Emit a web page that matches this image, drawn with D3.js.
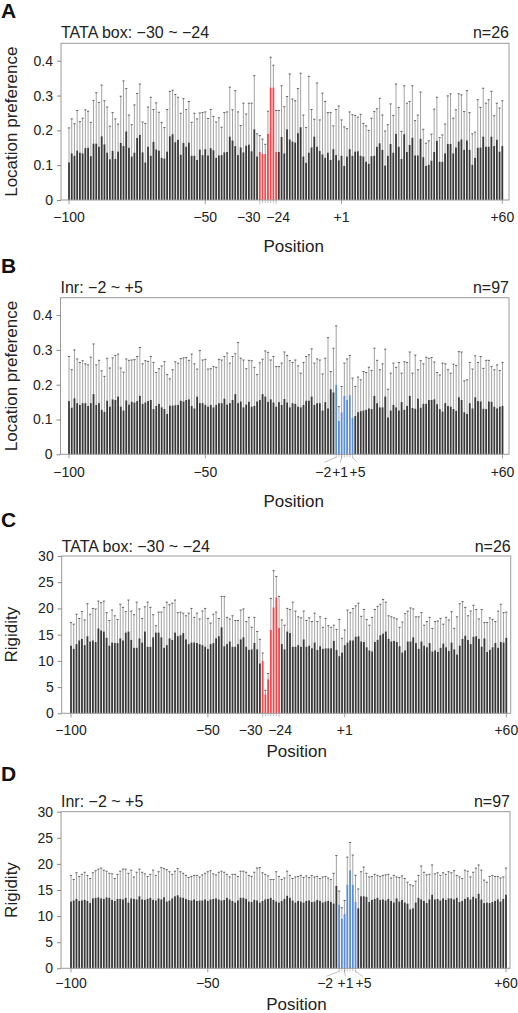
<!DOCTYPE html>
<html><head><meta charset="utf-8">
<script src="https://cdn.jsdelivr.net/npm/d3@7"></script>
<style>
html,body{margin:0;padding:0;background:#fff;}
svg{display:block;font-family:"Liberation Sans",Arial,Helvetica,sans-serif;}
</style></head>
<body>
<svg id="chart" width="518" height="1013"></svg>
<script>
// positions -100..-1, +1..+60 (no 0)
const positions = d3.range(-100, 0).concat(d3.range(1, 61));

// Panel A: TATA box, location preference (mean, upper end of error bar)
const tataPrefMean = [
.108,.134,.127,.142,.136,.134,.149,.150,.126,.162,
.162,.153,.183,.160,.136,.117,.141,.118,.139,.164,
.155,.197,.150,.125,.136,.178,.187,.137,.108,.153,
.127,.167,.145,.142,.121,.119,.139,.183,.189,.166,
.173,.130,.164,.153,.165,.127,.127,.115,.145,.129,
.146,.128,.149,.143,.121,.128,.129,.137,.138,.182,
.171,.155,.129,.151,.137,.156,.159,.140,.203,.125,
.138,.132,.132,.190,.323,.323,.138,
.138,.181,.134,.203,.174,.168,.165,.192,.209,.125,
.107,.136,.151,.182,.153,.141,.131,.121,.136,.115,
.146,.129,.114,.127,.098,.125,
.146,.127,.139,.140,.127,.125,.110,.104,.126,.127,
.153,.163,.144,.099,.127,.161,.136,.190,.153,.118,
.189,.138,.158,.179,.128,.128,.176,.123,.098,.101,
.113,.138,.170,.110,.110,.134,.161,.161,.134,.151,
.168,.174,.144,.171,.144,.101,.121,.150,.151,.182,
.153,.153,.182,.155,.173,.139,.155];
const tataPrefUpper = [
.207,.233,.219,.257,.225,.235,.259,.255,.223,.286,
.308,.280,.330,.285,.267,.212,.251,.233,.218,.298,
.342,.320,.244,.216,.273,.306,.333,.224,.220,.267,
.295,.260,.279,.252,.223,.208,.260,.312,.315,.303,
.295,.249,.291,.260,.283,.223,.249,.233,.250,.251,
.253,.234,.260,.240,.224,.236,.209,.251,.253,.324,
.259,.314,.253,.214,.278,.247,.278,.278,.357,.190,
.185,.175,.160,.255,.410,.387,.257,
.257,.328,.268,.297,.362,.290,.285,.320,.364,.244,
.208,.355,.260,.232,.336,.230,.307,.283,.251,.251,
.213,.260,.270,.230,.210,.205,
.253,.245,.243,.238,.246,.220,.213,.200,.235,.254,
.262,.292,.244,.198,.216,.276,.243,.333,.266,.197,
.328,.278,.283,.328,.228,.244,.310,.203,.163,.170,
.189,.261,.295,.179,.187,.218,.299,.305,.235,.259,
.305,.302,.254,.314,.251,.190,.195,.288,.266,.321,
.278,.288,.312,.242,.278,.264,.285];

// Panel B: Inr, location preference
const inrPrefMean = [
.153,.134,.161,.147,.142,.147,.147,.139,.147,.173,
.142,.147,.128,.122,.154,.137,.158,.156,.166,.137,
.126,.155,.143,.151,.149,.153,.168,.145,.149,.153,
.156,.130,.139,.145,.135,.130,.116,.140,.140,.141,
.142,.154,.152,.156,.158,.139,.132,.166,.147,
.147,.142,.137,.142,.135,.142,.147,.147,.160,.143,
.147,.156,.173,.147,.152,.135,.143,.151,.137,.139,
.152,.156,.173,.166,.151,.158,.149,.137,.150,.142,
.159,.149,.135,.147,.145,.137,.135,.142,.154,.154,
.166,.142,.147,.147,.126,.150,.132,.187,.178,
.200,.096,.121,.168,.156,.170,.105,
.110,.121,.124,.126,.128,.132,.130,.168,.147,.135,
.135,.166,.106,.126,.142,.135,.126,.150,.128,.139,
.168,.133,.131,.160,.134,.145,.145,.156,.156,.158,
.144,.130,.123,.147,.139,.137,.130,.125,.164,.156,
.121,.116,.147,.132,.164,.153,.152,.131,.130,.152,
.151,.137,.132,.137,.139];
const inrPrefUpper = [
.281,.243,.300,.274,.264,.269,.260,.257,.279,.317,
.257,.270,.240,.224,.276,.248,.277,.284,.288,.248,
.236,.274,.270,.271,.272,.281,.307,.260,.269,.267,
.281,.264,.235,.246,.254,.266,.229,.217,.243,.266,
.262,.275,.277,.278,.270,.288,.260,.245,.298,
.271,.273,.245,.246,.252,.250,.273,.271,.281,.291,
.262,.281,.289,.321,.276,.271,.246,.270,.269,.250,
.229,.263,.273,.297,.293,.271,.281,.252,.252,.262,
.294,.284,.269,.264,.271,.254,.233,.264,.281,.286,
.303,.262,.274,.271,.231,.276,.335,.238,.305,
.369,.137,.195,.262,.274,.284,.219,
.195,.222,.214,.238,.235,.250,.241,.305,.270,.243,
.260,.302,.187,.233,.262,.250,.264,.233,.266,.264,
.294,.233,.285,.243,.269,.260,.279,.276,.278,.265,
.235,.228,.262,.260,.243,.233,.259,.255,.295,.294,
.211,.214,.264,.245,.283,.264,.281,.247,.270,.270,
.252,.243,.257,.241,.264];

// Panel C: TATA box, rigidity
const tataRigMean = [
12.9,12.3,13.2,13.9,14.2,13.0,14.7,13.7,13.9,13.6,
16.2,15.8,15.6,14.4,12.9,13.5,13.4,13.4,14.3,13.9,
15.4,15.6,14.0,12.5,12.5,14.3,13.5,15.6,12.7,12.7,
14.5,15.4,15.4,14.5,12.5,13.0,14.3,14.0,15.4,14.7,
14.9,15.3,14.1,13.2,13.5,13.5,13.4,13.2,13.0,
12.7,12.3,13.2,13.4,14.3,14.7,16.4,12.8,13.2,13.7,
12.7,12.7,13.2,14.1,14.5,12.7,12.1,12.2,13.4,12.2,9.5,
10.0,3.6,6.5,15.9,20.2,22.1,16.3,
13.2,12.2,15.6,15.3,12.7,12.7,13.0,12.7,14.1,12.7,
12.9,12.4,13.5,12.1,12.8,12.3,12.4,12.4,12.4,13.8,
12.1,10.9,11.6,13.0,13.5,13.9,13.9,14.6,14.7,
13.7,13.6,12.6,12.0,11.8,13.6,14.0,14.9,15.2,15.6,
14.2,13.7,13.8,13.6,12.8,11.6,12.0,13.7,13.7,14.5,
13.4,12.3,13.7,12.9,12.6,13.4,11.8,12.0,11.7,12.5,
13.3,12.6,11.9,13.5,12.2,11.2,12.9,14.2,14.8,14.0,
13.2,14.6,14.7,14.2,12.7,14.3,11.7,12.1,12.6,13.4,
12.5,13.6,13.5,14.4];
const tataRigUpper = [
17.3,17.0,18.9,18.1,19.4,17.8,20.9,18.9,20.0,19.9,
21.4,21.1,21.4,19.2,17.7,19.7,18.6,17.9,20.8,20.2,
19.4,21.6,19.5,18.8,21.2,19.9,18.1,20.3,21.2,20.2,
18.8,16.7,19.3,19.3,20.2,21.2,20.7,21.0,21.6,19.2,
19.3,19.1,18.6,19.1,20.0,18.3,19.1,18.0,19.5,
20.0,18.1,17.2,18.9,19.3,18.1,22.3,22.3,18.3,18.0,
18.6,17.7,17.7,19.7,19.9,17.5,18.3,16.4,18.3,15.6,14.1,
11.5,4.4,7.6,21.9,27.2,26.1,22.3,
17.8,16.8,20.0,19.8,21.2,19.5,18.4,18.2,19.5,17.7,
18.2,17.5,19.1,17.5,18.4,16.4,18.1,16.7,16.4,16.8,
16.0,17.9,14.3,15.9,19.7,19.2,20.0,20.5,21.0,
18.5,19.8,17.9,16.8,18.3,19.8,20.4,20.8,21.7,21.2,
18.6,18.4,18.2,18.0,16.4,17.4,19.0,19.5,20.1,19.9,
18.4,18.4,19.2,16.8,17.5,18.3,16.2,17.5,17.6,18.1,
17.0,18.3,17.8,19.4,16.2,18.4,20.9,21.3,20.2,18.6,
19.5,20.6,19.8,18.0,19.8,17.3,17.3,18.2,17.9,17.5,
19.5,20.8,19.2,19.3];

// Panel D: Inr, rigidity
const inrRigMean = [
12.8,13.0,13.3,12.9,13.0,13.1,12.9,12.5,13.4,13.5,
13.6,13.4,13.3,13.6,13.5,13.1,12.9,13.3,13.3,13.2,
13.5,12.6,13.4,13.3,13.2,13.8,13.2,13.1,13.3,13.5,
13.1,13.0,13.4,13.2,13.6,12.8,13.0,13.4,13.8,14.0,
13.6,13.5,13.3,13.1,13.0,13.2,12.9,13.0,13.0,13.2,
12.9,13.2,13.3,13.4,13.2,13.0,13.1,13.5,13.2,12.9,
12.6,13.0,13.5,13.5,13.3,12.8,12.7,13.1,13.0,12.6,
12.9,13.2,13.3,13.5,13.1,12.8,12.6,12.9,13.3,13.9,
13.5,13.0,12.6,12.9,12.8,12.6,12.9,13.0,12.7,12.8,
13.1,12.9,12.6,12.8,12.9,12.7,12.4,15.8,
12.2,9.5,10.4,16.0,18.8,16.0,12.7,
11.5,13.8,13.8,13.7,12.7,13.1,13.3,13.5,13.1,13.2,
13.0,13.3,12.9,12.6,13.4,12.8,13.1,12.6,12.4,11.3,
11.5,12.6,13.5,13.2,12.9,12.5,13.2,14.1,13.2,13.3,
13.0,13.4,13.1,13.4,13.4,13.2,13.5,12.7,12.9,13.3,
13.6,13.2,13.7,13.4,14.3,13.2,12.5,12.6,12.5,12.7,
12.9,13.2,12.8,13.3,14.1];
const inrRigUpper = [
17.8,17.0,18.3,17.6,18.0,18.4,17.8,17.2,18.3,18.7,
19.0,19.2,18.8,18.6,18.2,18.1,17.2,18.0,18.6,19.0,
19.0,18.2,18.8,17.5,18.4,19.0,18.4,18.1,17.6,18.0,
18.8,17.8,18.5,19.3,19.1,18.9,18.5,18.0,18.6,19.1,
18.5,18.2,17.8,17.4,17.6,17.8,17.8,17.5,17.9,18.2,
18.5,18.7,18.1,17.9,18.4,18.6,18.4,18.0,17.5,18.0,
18.0,17.6,18.6,18.6,18.4,17.8,17.6,18.4,19.2,19.3,
18.3,18.0,17.7,17.0,17.0,18.5,17.6,17.0,17.3,18.6,
17.8,17.2,17.5,17.6,17.8,17.4,17.7,17.4,17.8,17.5,
17.6,17.2,17.5,17.6,17.3,17.0,18.2,21.6,
14.8,11.6,13.0,21.3,24.1,21.7,17.8,
15.2,18.5,19.4,18.2,17.5,17.6,18.0,17.8,17.6,17.8,
17.9,18.0,17.3,17.8,17.5,17.4,17.7,17.2,16.5,16.0,
15.8,16.7,17.8,19.6,18.4,17.9,18.0,19.8,18.1,18.3,
17.8,18.3,18.0,18.5,18.3,18.7,17.8,17.5,17.2,18.8,
18.6,17.5,18.4,19.2,19.8,18.8,16.9,16.5,17.6,17.8,
17.6,17.6,17.3,17.5,19.2];

const prefTicks = [0, 0.1, 0.2, 0.3, 0.4];
const rigTicks = [0, 5, 10, 15, 20, 25, 30];
const tataRange = [-30, -24];
const inrRange = [-2, 5];

const RED = "#f2474c", BLUE = "#5b8cd8", BAR = "#383838";

const panels = [
  {letter:"A", letterY:18, title:"TATA box: \u221230 ~ \u221224", n:"n=26", ylab:"Location preference",
   mean:tataPrefMean, upper:tataPrefUpper, yMax:0.45, ticks:prefTicks, fmt:d=>d===0?"0":d3.format(".1f")(d),
   hl:tataRange, hlColor:RED, fx0:61, fx1:509, top:43.3, bottom:200, cx0:69, cx1:502.3,
   titleY:38, tickLabY:221.7, posY:252,
   xlabels:[{p:-100,dx:0},{p:-50,dx:0},{p:-30,dx:-11},{p:-24,dx:2},{p:1,dx:0},{p:60,dx:0}], leaders:false},
  {letter:"B", letterY:273, title:"Inr: \u22122 ~ +5", n:"n=97", ylab:"Location preference",
   mean:inrPrefMean, upper:inrPrefUpper, yMax:0.45, ticks:prefTicks, fmt:d=>d===0?"0":d3.format(".1f")(d),
   hl:inrRange, hlColor:BLUE, fx0:60.5, fx1:509, top:297.7, bottom:454.3, cx0:69, cx1:502.5,
   titleY:292.7, tickLabY:476.5, posY:507,
   xlabels:[{p:-100,dx:0},{p:-50,dx:0},{p:-2,dx:-13},{p:1,dx:-1.5},{p:5,dx:5},{p:60,dx:0}], leaders:true},
  {letter:"C", letterY:527, title:"TATA box: \u221230 ~ \u221224", n:"n=26", ylab:"Rigidity",
   mean:tataRigMean, upper:tataRigUpper, yMax:30, ticks:rigTicks, fmt:d=>String(d),
   hl:tataRange, hlColor:RED, fx0:61.7, fx1:510.7, top:556, bottom:713.3, cx0:71, cx1:506.3,
   titleY:552, tickLabY:735, posY:757,
   xlabels:[{p:-100,dx:0},{p:-50,dx:0},{p:-30,dx:-12},{p:-24,dx:1},{p:1,dx:0},{p:60,dx:0}], leaders:false},
  {letter:"D", letterY:781, title:"Inr: \u22122 ~ +5", n:"n=97", ylab:"Rigidity",
   mean:inrRigMean, upper:inrRigUpper, yMax:30, ticks:rigTicks, fmt:d=>String(d),
   hl:inrRange, hlColor:BLUE, fx0:61, fx1:510, top:811.7, bottom:968.3, cx0:71, cx1:506,
   titleY:807, tickLabY:987.7, posY:1009.5,
   xlabels:[{p:-100,dx:0},{p:-50,dx:0},{p:-2,dx:-14},{p:1,dx:1},{p:5,dx:8},{p:60,dx:0}], leaders:true}
];

const fmtPos = p => p > 0 ? "+" + p : "\u2212" + Math.abs(p);
const svg = d3.select("#chart");
const TXT = "#222";

panels.forEach(P => {
  const g = svg.append("g");
  const x = d3.scalePoint().domain(positions).range([P.cx0, P.cx1]);
  const y = d3.scaleLinear().domain([0, P.yMax]).range([P.bottom, P.top]);
  const step = x.step();
  const bw = step * 0.66;
  const data = positions.map((p, i) => ({p, m: P.mean[i], u: P.upper[i],
     hl: p >= P.hl[0] && p <= P.hl[1]}));

  g.append("text").attr("x", 1).attr("y", P.letterY).attr("font-size", 21)
   .attr("font-weight", "bold").attr("fill", "#111").text(P.letter);
  g.append("text").attr("x", P.fx0).attr("y", P.titleY).attr("font-size", 16)
   .attr("fill", TXT).text(P.title);
  g.append("text").attr("x", P.fx1).attr("y", P.titleY).attr("font-size", 16)
   .attr("text-anchor", "end").attr("fill", TXT).text(P.n);

  // whiskers
  g.append("g").selectAll("line").data(data).join("line")
   .attr("x1", d => x(d.p)).attr("x2", d => x(d.p))
   .attr("y1", d => y(d.m)).attr("y2", d => y(d.u))
   .attr("stroke", "#8c8c8c").attr("stroke-width", 0.8);
  g.append("g").selectAll("line").data(data).join("line")
   .attr("x1", d => x(d.p) - 1.1).attr("x2", d => x(d.p) + 1.1)
   .attr("y1", d => y(d.u)).attr("y2", d => y(d.u))
   .attr("stroke", "#444").attr("stroke-width", 0.8);
  // bars
  g.append("g").selectAll("rect").data(data).join("rect")
   .attr("x", d => x(d.p) - bw / 2).attr("width", bw)
   .attr("y", d => y(d.m)).attr("height", d => y(0) - y(d.m))
   .attr("fill", d => d.hl ? P.hlColor : BAR);

  // frame
  g.append("rect").attr("x", P.fx0).attr("y", P.top)
   .attr("width", P.fx1 - P.fx0).attr("height", P.bottom - P.top)
   .attr("fill", "none").attr("stroke", "#9a9a9a").attr("stroke-width", 1);

  // y axis
  const ya = g.append("g").attr("transform", `translate(${P.fx0},0)`)
   .call(d3.axisLeft(y).tickValues(P.ticks).tickFormat(P.fmt).tickSize(4).tickPadding(4));
  ya.select(".domain").remove();
  ya.selectAll(".tick line").attr("stroke", "#888");
  ya.selectAll(".tick text").attr("font-size", 14).attr("fill", TXT)
   .attr("font-family", "Liberation Sans, Arial, sans-serif");

  g.append("text").attr("transform", `translate(17,${(P.top + P.bottom) / 2}) rotate(-90)`)
   .attr("text-anchor", "middle").attr("font-size", 17).attr("fill", TXT).text(P.ylab);

  const majors = [-100, -50, 1, 60];
  const hlPos = positions.filter(p => p >= P.hl[0] && p <= P.hl[1]);
  g.append("g").selectAll("line").data(majors).join("line")
   .attr("x1", d => x(d)).attr("x2", d => x(d))
   .attr("y1", P.bottom).attr("y2", P.bottom + 4)
   .attr("stroke", "#888").attr("stroke-width", 0.8);
  g.append("g").selectAll("line").data(hlPos).join("line")
   .attr("x1", d => x(d)).attr("x2", d => x(d))
   .attr("y1", P.bottom).attr("y2", d => P.bottom + ((d === P.hl[0] || d === P.hl[1]) ? 4 : 3))
   .attr("stroke", "#999").attr("stroke-width", 0.6);

  if (P.leaders) {
    P.xlabels.filter(l => hlPos.includes(l.p)).forEach(l => {
      g.append("polyline")
       .attr("points", `${x(l.p)},${P.bottom + 3} ${x(l.p) + l.dx * 0.9},${P.bottom + 8}`)
       .attr("fill", "none").attr("stroke", "#999").attr("stroke-width", 0.6);
    });
  }

  g.append("g").selectAll("text").data(P.xlabels).join("text")
   .attr("x", d => x(d.p) + d.dx).attr("y", P.tickLabY)
   .attr("text-anchor", "middle").attr("font-size", 14).attr("fill", TXT)
   .text(d => fmtPos(d.p));

  g.append("text").attr("x", (P.cx0 + P.cx1) / 2 + 8).attr("y", P.posY)
   .attr("text-anchor", "middle").attr("font-size", 17).attr("fill", TXT).text("Position");
});
</script>
</body></html>
